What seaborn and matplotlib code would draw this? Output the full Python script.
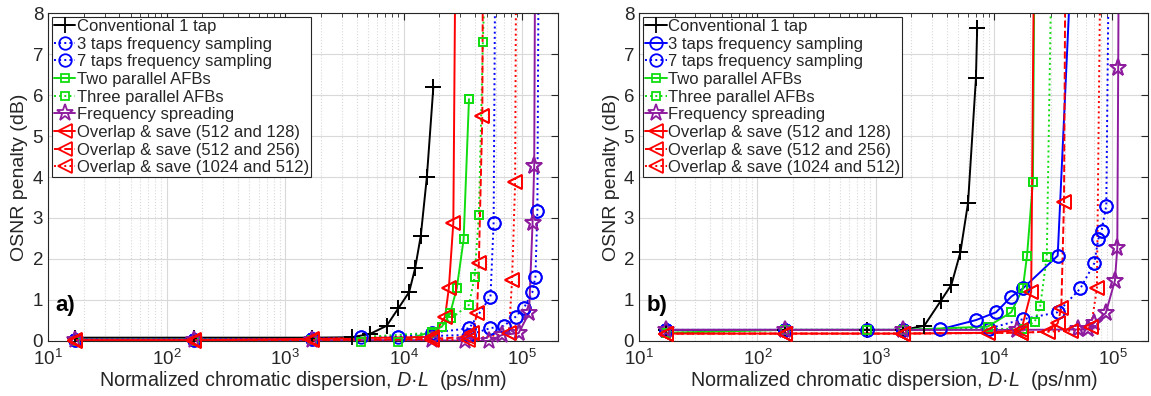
import numpy as np
import pandas as pd
import matplotlib
matplotlib.use("Agg")
import matplotlib.pyplot as plt
import seaborn as sns

# ---- panel a) data (ps/nm, dB) ----
a_conv_x = [17, 170, 1700, 3630, 5180, 7180, 9020, 11100, 12470, 13930, 15670, 17780]
a_conv_y = [0.08, 0.08, 0.08, 0.09, 0.17, 0.37, 0.80, 1.19, 1.77, 2.57, 4.0, 6.2]
a_fs3_x = [17, 170, 1700, 4370, 8900, 17400, 35700, 53900, 57300, 59000]
a_fs3_y = [0.03, 0.03, 0.05, 0.1, 0.1, 0.2, 0.31, 1.08, 2.89, 9]
a_fs7_x = [17, 170, 1700, 17400, 35700, 53400, 70000, 87700, 103000, 121600, 129000, 134000, 137000]
a_fs7_y = [0.03, 0.03, 0.05, 0.12, 0.15, 0.31, 0.37, 0.59, 0.80, 1.19, 1.57, 3.18, 9]
a_afb2_x = [17, 170, 1700, 4370, 8900, 17400, 21000, 24600, 28000, 32000, 35500]
a_afb2_y = [0.0, 0.0, 0.02, -0.03, -0.03, 0.23, 0.35, 0.67, 1.28, 2.48, 5.9]
a_afb3_x = [17, 170, 1700, 17400, 25000, 35500, 39600, 43000, 46500, 48500]
a_afb3_y = [0.0, 0.0, 0.02, 0.2, 0.55, 0.88, 1.57, 3.07, 7.29, 9]
a_spr_x = [17, 170, 1700, 17400, 33000, 52000, 68000, 93000, 114000, 122000, 126000, 128000]
a_spr_y = [0.02, 0.02, 0.02, 0.02, 0.0, 0.0, 0.15, 0.19, 0.68, 2.87, 4.27, 9]
a_os128_x = [17, 170, 1700, 17400, 22300, 24000, 26200, 27200]
a_os128_y = [0.02, 0.02, 0.05, 0.1, 0.59, 1.28, 2.89, 9]
a_os256_x = [17, 170, 1700, 17400, 35000, 38000, 41500, 43000, 46000, 46500]
a_os256_y = [0.0, 0.0, 0.02, 0.05, 0.1, 0.19, 0.68, 1.9, 5.5, 9]
a_os512_x = [17, 170, 1700, 17400, 35000, 77000, 82000, 87000, 88500]
a_os512_y = [0.0, 0.0, 0.02, 0.03, 0.03, 0.19, 1.49, 3.89, 9]

# ---- panel b) data ----
b_conv_x = [17, 170, 850, 1700, 2570, 3550, 4360, 5190, 6030, 7030, 7200]
b_conv_y = [0.27, 0.27, 0.27, 0.27, 0.37, 0.98, 1.37, 2.16, 3.37, 6.41, 7.63]
b_fs3_x = [17, 170, 850, 1700, 3480, 7050, 10400, 13960, 17500, 34500, 44500]
b_fs3_y = [0.27, 0.27, 0.27, 0.27, 0.28, 0.51, 0.70, 1.08, 1.28, 2.08, 9]
b_fs7_x = [17, 170, 1700, 9000, 17500, 34500, 53600, 70400, 75900, 81000, 88800, 93000]
b_fs7_y = [0.27, 0.27, 0.27, 0.3, 0.53, 0.70, 1.28, 1.9, 2.48, 2.69, 3.30, 9]
b_afb2_x = [17, 170, 850, 1700, 8830, 13970, 17500, 19000, 21300, 21900]
b_afb2_y = [0.2, 0.27, 0.27, 0.27, 0.35, 0.70, 1.28, 2.08, 3.89, 9]
b_afb3_x = [17, 170, 1700, 17500, 22100, 24600, 27900, 30500]
b_afb3_y = [0.2, 0.27, 0.27, 0.3, 0.47, 0.86, 2.06, 9]
b_spr_x = [17, 170, 1700, 15500, 51000, 62000, 70000, 87900, 105000, 110000, 112000, 113000]
b_spr_y = [0.27, 0.27, 0.27, 0.27, 0.28, 0.28, 0.44, 0.68, 1.47, 2.26, 6.67, 9]
b_os128_x = [17, 170, 1700, 8900, 17000, 20600, 21700]
b_os128_y = [0.18, 0.18, 0.18, 0.2, 0.27, 1.2, 9]
b_os256_x = [17, 170, 1700, 17000, 28500, 34500, 37000, 39000, 40000]
b_os256_y = [0.18, 0.18, 0.18, 0.2, 0.23, 0.43, 0.8, 3.4, 9]
b_os512_x = [17, 170, 1700, 17000, 45000, 66000, 74000, 79000]
b_os512_y = [0.18, 0.18, 0.18, 0.2, 0.25, 0.35, 1.28, 9]

labels = ["Conventional 1 tap", "3 taps frequency sampling", "7 taps frequency sampling",
          "Two parallel AFBs", "Three parallel AFBs", "Frequency spreading",
          "Overlap & save (512 and 128)", "Overlap & save (512 and 256)",
          "Overlap & save (1024 and 512)"]

BLACK, BLUE, GREEN, PURPLE, RED = "black", "#0000ff", "#11dd11", "#8e1c9e", "#ff0000"

sns.set_theme(style="white")
plt.rcParams["font.family"] = ["Liberation Sans", "DejaVu Sans"]
plt.rcParams["mathtext.fontset"] = "custom"
plt.rcParams["mathtext.rm"] = "Liberation Sans"
plt.rcParams["mathtext.it"] = "Liberation Sans:italic"


def draw_panel(ax, series, tag):
    """
    One OSNR penalty panel, MATLAB-like look.
    """
    for name, x, y, color, ls, marker, ms in series:
        sns.lineplot(x=x, y=y, ax=ax, color=color, linestyle=ls, linewidth=1.4,
                     marker=marker, markersize=ms, markerfacecolor="none",
                     markeredgecolor=color, markeredgewidth=1.3,
                     estimator=None, sort=False, label=name, legend=False)
        # markers are not clipped at the axis edge in the original
        xs = np.array(x)
        ys = np.array(y)
        keep = ys <= 8
        ax.plot(xs[keep], ys[keep], linestyle="none", marker=marker, markersize=ms,
                markerfacecolor="none", markeredgecolor=color, markeredgewidth=1.3,
                clip_on=False, zorder=3)

    ax.set_xscale("log")
    ax.set_xlim(10, 2e5)
    ax.set_ylim(0, 8)
    ax.set_yticks(range(0, 9))
    ax.grid(True, which="major", color="0.85", linewidth=0.8)
    ax.grid(True, which="minor", axis="x", color="0.85", linestyle=":", linewidth=0.8)
    ax.tick_params(which="both", direction="in", top=True, right=True,
                   labelsize=13.5, colors="0.15", labelcolor="0.15")
    ax.tick_params(axis="x", which="major", pad=6)
    ax.tick_params(which="major", length=5, width=0.8)
    ax.tick_params(which="minor", length=3, width=0.6)
    for sp in ax.spines.values():
        sp.set_color("0.15")
        sp.set_linewidth(0.8)
    ax.set_xlabel("Normalized chromatic dispersion, $D$\u00b7$L$  (ps/nm)",
                  fontsize=14.2, color="0.15", labelpad=0)
    ax.set_ylabel("OSNR penalty (dB)", fontsize=14, color="0.15", labelpad=3)
    ax.text(0.014, 0.108, tag, transform=ax.transAxes, fontsize=16,
            fontweight="bold", color="black", va="center")
    leg = ax.legend(loc="upper left", fontsize=12, frameon=True, fancybox=False,
                    edgecolor="0.15", framealpha=1, borderaxespad=0.25,
                    borderpad=0.1, labelspacing=0.16, handlelength=1.3,
                    handletextpad=0.1, numpoints=1)
    leg.get_frame().set_linewidth(0.8)


fig = plt.figure(figsize=(11.51, 3.96), dpi=100)
ax_a = fig.add_axes([0.0417, 0.139, 0.4431, 0.828])
ax_b = fig.add_axes([0.5552, 0.139, 0.4422, 0.828])

series_a = [
    (labels[0], a_conv_x, a_conv_y, BLACK, "-", "+", 11),
    (labels[1], a_fs3_x, a_fs3_y, BLUE, ":", "o", 9),
    (labels[2], a_fs7_x, a_fs7_y, BLUE, ":", "o", 9),
    (labels[3], a_afb2_x, a_afb2_y, GREEN, "-", "s", 6),
    (labels[4], a_afb3_x, a_afb3_y, GREEN, ":", "s", 6),
    (labels[5], a_spr_x, a_spr_y, PURPLE, "-", "*", 12.5),
    (labels[6], a_os128_x, a_os128_y, RED, "-", "<", 9.5),
    (labels[7], a_os256_x, a_os256_y, RED, "--", "<", 9.5),
    (labels[8], a_os512_x, a_os512_y, RED, ":", "<", 9.5),
]
series_b = [
    (labels[0], b_conv_x, b_conv_y, BLACK, "-", "+", 11),
    (labels[1], b_fs3_x, b_fs3_y, BLUE, "-", "o", 9),
    (labels[2], b_fs7_x, b_fs7_y, BLUE, ":", "o", 9),
    (labels[3], b_afb2_x, b_afb2_y, GREEN, "-", "s", 6),
    (labels[4], b_afb3_x, b_afb3_y, GREEN, ":", "s", 6),
    (labels[5], b_spr_x, b_spr_y, PURPLE, "-", "*", 12.5),
    (labels[6], b_os128_x, b_os128_y, RED, "-", "<", 9.5),
    (labels[7], b_os256_x, b_os256_y, RED, "--", "<", 9.5),
    (labels[8], b_os512_x, b_os512_y, RED, ":", "<", 9.5),
]

draw_panel(ax_a, series_a, "a)")
draw_panel(ax_b, series_b, "b)")

fig.savefig("out.png", dpi=100, facecolor="white")
